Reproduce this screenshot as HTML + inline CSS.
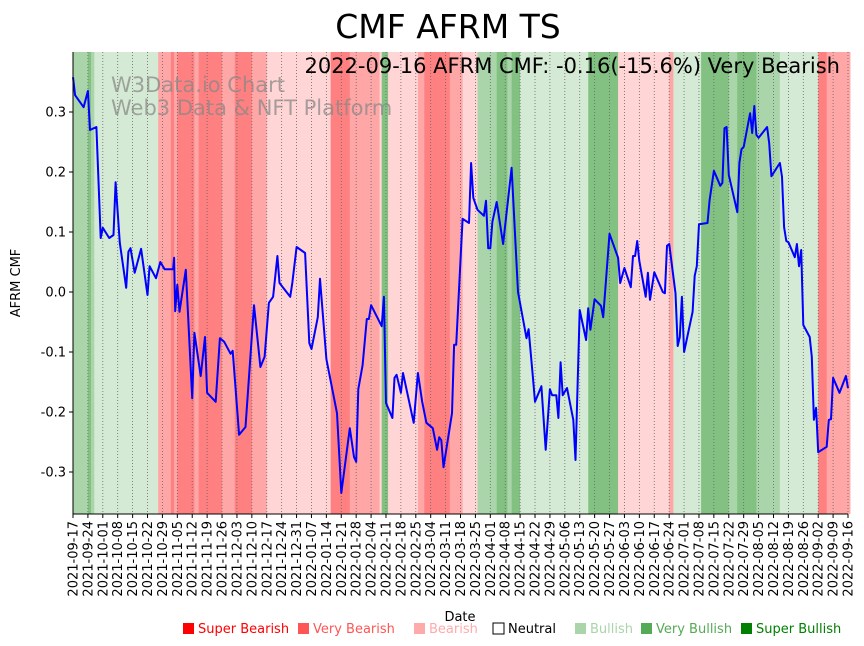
<!DOCTYPE html>
<html><head><meta charset="utf-8"><style>
body{margin:0;background:#fff;}
svg{display:block;font-family:"DejaVu Sans","Liberation Sans",sans-serif;}
</style></head><body>
<svg id="chart" width="864" height="646" viewBox="0 0 864 646" xmlns="http://www.w3.org/2000/svg">
<text x="448" y="38" font-size="33" text-anchor="middle">CMF AFRM TS</text>
<g id="bands"></g>
<g id="grid"></g>
<text x="111" y="92" font-size="21" fill="#888" fill-opacity="0.75">W3Data.io Chart</text>
<text x="111" y="115" font-size="21" fill="#888" fill-opacity="0.75">Web3 Data &amp; NFT Platform</text>
<text x="840" y="73" font-size="21" text-anchor="end">2022-09-16 AFRM CMF: -0.16(-15.6%) Very Bearish</text>
<g id="series"></g>
<g id="axes"></g>
<text transform="translate(20,283) rotate(-90)" font-size="13" text-anchor="middle">AFRM CMF</text>
<text x="460" y="621" font-size="13" text-anchor="middle">Date</text>
<g id="legend" font-size="13"></g>
</svg>
<script>
const dayOffsets=[0,1,5,7,8,11,13,14,17,19,20,22,25,26,27,29,32,35,36,39,41,43,47,47.5,48,49,50,53,56,57,60,62,63,67,69,71,74,75,78,81,85,88,90,92,94,96,97,102,103,105,109,111,112,115,116,119,124,126,130,132,133,134,136,138,139,140,145,146,147,150,151,152,154,155,160,162,164,166,169,171,172,173,174,178,179,180,183,186,187,188,190,193,194,195,196,197,199,202,206,209,213,214,216,217,220,222,224,225,227,228,229,230,232,235,236,238,241,242,243,245,248,249,252,256,257,259,262,263,264,265,266,269,270,271,273,277,278,279,280,283,284,285,286,287,291,292,293,294,298,299,301,304,305,306,307,308,312,313,314,315,318,319,320,321,322,326,327,328,332,333,334,335,336,339,340,341,342,343,346,347,348,349,350,354,355,356,357,360,363,364];
const cmfValues=[0.358,0.328,0.308,0.335,0.270,0.275,0.090,0.107,0.090,0.095,0.183,0.082,0.007,0.067,0.073,0.032,0.072,-0.005,0.043,0.023,0.050,0.038,0.038,0.057,-0.032,0.012,-0.033,0.037,-0.177,-0.068,-0.140,-0.075,-0.168,-0.183,-0.077,-0.083,-0.103,-0.098,-0.238,-0.225,-0.022,-0.125,-0.108,-0.018,-0.008,0.060,0.015,-0.008,0.015,0.075,0.065,-0.085,-0.095,-0.042,0.022,-0.112,-0.202,-0.335,-0.227,-0.275,-0.283,-0.162,-0.122,-0.045,-0.045,-0.022,-0.057,-0.008,-0.185,-0.210,-0.143,-0.138,-0.168,-0.135,-0.218,-0.135,-0.183,-0.218,-0.227,-0.263,-0.242,-0.247,-0.292,-0.202,-0.088,-0.088,0.122,0.115,0.215,0.157,0.137,0.127,0.152,0.073,0.073,0.117,0.150,0.080,0.207,0.000,-0.077,-0.062,-0.142,-0.183,-0.157,-0.263,-0.162,-0.172,-0.172,-0.210,-0.117,-0.172,-0.160,-0.213,-0.280,-0.030,-0.080,-0.027,-0.063,-0.012,-0.023,-0.042,0.097,0.057,0.015,0.040,0.008,0.060,0.060,0.085,0.052,-0.008,0.032,-0.013,0.033,0.000,-0.002,0.077,0.080,-0.002,-0.090,-0.075,-0.008,-0.100,-0.033,0.027,0.043,0.113,0.115,0.153,0.202,0.177,0.182,0.273,0.275,0.195,0.133,0.215,0.238,0.242,0.298,0.265,0.310,0.262,0.257,0.275,0.248,0.193,0.215,0.192,0.108,0.085,0.083,0.058,0.080,0.043,0.070,-0.055,-0.075,-0.108,-0.213,-0.193,-0.267,-0.258,-0.213,-0.212,-0.143,-0.168,-0.140,-0.160];
const bandStarts=[0,7,8.5,10,40,46,47.5,49,57,59,70,76,84,91,121,130,144,145,148,162,165,177,183,190,199,204,206,210,242,256,280,282,295,308,312,321,332,350,354];
const bandEnds=[7,8.5,10,40,46,47.5,49,57,59,70,76,84,91,121,130,144,145,148,162,165,177,183,190,199,204,206,210,242,256,280,282,295,308,312,321,332,350,354,365];
const bandLevels=['g2','g3','g2','g1','r2','r3','r2','r3','r2','r3','r2','r3','r2','r1','r3','r2','r1','g3','r1','r2','r3','r2','r1','g2','g3','g2','g3','g1','g3','r1','r2','g1','g3','g2','g3','g2','g1','r3','r2'];
const yTicks=[-0.3,-0.2,-0.1,0.0,0.1,0.2,0.3];
const legendLabels=['Super Bearish','Very Bearish','Bearish','Neutral','Bullish','Very Bullish','Super Bullish'];
const legendColors=['#ff0000','#ff5555','#ffaaaa','#ffffff','#aad4aa','#55aa55','#008000'];
const legendX=[183,298,414,493,575,641,741];
const levelColor={r3:'#ff8080',r2:'#ffa6a6',r1:'#ffd5d5',g1:'#d5ead5',g2:'#aad5aa',g3:'#82c182'};

const NS='http://www.w3.org/2000/svg';
const X0=73,X1=848,Y0=52,Y1=514,D=364;
const xs=d=>X0+(X1-X0)*d/D;
const ys=v=>292-v*600;
function mk(tag,attrs,parent){const e=document.createElementNS(NS,tag);for(const k in attrs)e.setAttribute(k,attrs[k]);parent.appendChild(e);return e;}

const bands=document.getElementById('bands');
bandStarts.forEach((s,i)=>{
  const r=mk('rect',{x:xs(s),y:Y0,width:Math.max(0,xs(bandEnds[i])-xs(s))+0.3,height:Y1-Y0,fill:levelColor[bandLevels[i]]},bands);
  
  
});

const grid=document.getElementById('grid'),axes=document.getElementById('axes');
const start=Date.UTC(2021,8,17);
for(let w=0;w<=52;w++){
  const d=w*7,x=xs(d);
  const g=mk('line',{x1:x,x2:x,y1:Y0,y2:Y1,stroke:'#666','stroke-width':0.8,'stroke-dasharray':'1,2'},grid);
  
  
  mk('line',{x1:x,x2:x,y1:Y1,y2:Y1+4,stroke:'#000','stroke-width':1},axes);
  const dt=new Date(start+d*86400000).toISOString().slice(0,10);
  const t=mk('text',{transform:`translate(${x+4.5},${Y1+7}) rotate(-90)`,'font-size':13,'text-anchor':'end'},axes);
  t.textContent=dt;
  
  
}
yTicks.forEach(v=>{
  const y=ys(v);
  mk('line',{x1:X0-4,x2:X0,y1:y,y2:y,stroke:'#000','stroke-width':1},axes);
  const t=mk('text',{x:X0-7,y:y+4.5,'font-size':13,'text-anchor':'end'},axes);
  t.textContent=v.toFixed(1);
  
  
});
mk('line',{x1:X0,x2:X0,y1:Y0,y2:Y1,stroke:'#000','stroke-width':1},axes);
mk('line',{x1:X0,x2:X1,y1:Y1,y2:Y1,stroke:'#000','stroke-width':1},axes);

const series=document.getElementById('series');
const p=mk('polyline',{points:dayOffsets.map((d,i)=>xs(d).toFixed(1)+','+ys(cmfValues[i]).toFixed(1)).join(' '),fill:'none',stroke:'#0000ff','stroke-width':2,'stroke-linejoin':'round'},series);



const legend=document.getElementById('legend');
legendLabels.forEach((lab,i)=>{
  const g=mk('g',{},legend);
  
  
  mk('rect',{x:legendX[i],y:623,width:11,height:11,fill:legendColors[i],stroke:i===3?'#000':'none','stroke-width':1},g);
  const t=mk('text',{x:legendX[i]+15,y:633,fill:i===3?'#000':legendColors[i]},g);
  t.textContent=lab;
});
</script>
</body></html>
